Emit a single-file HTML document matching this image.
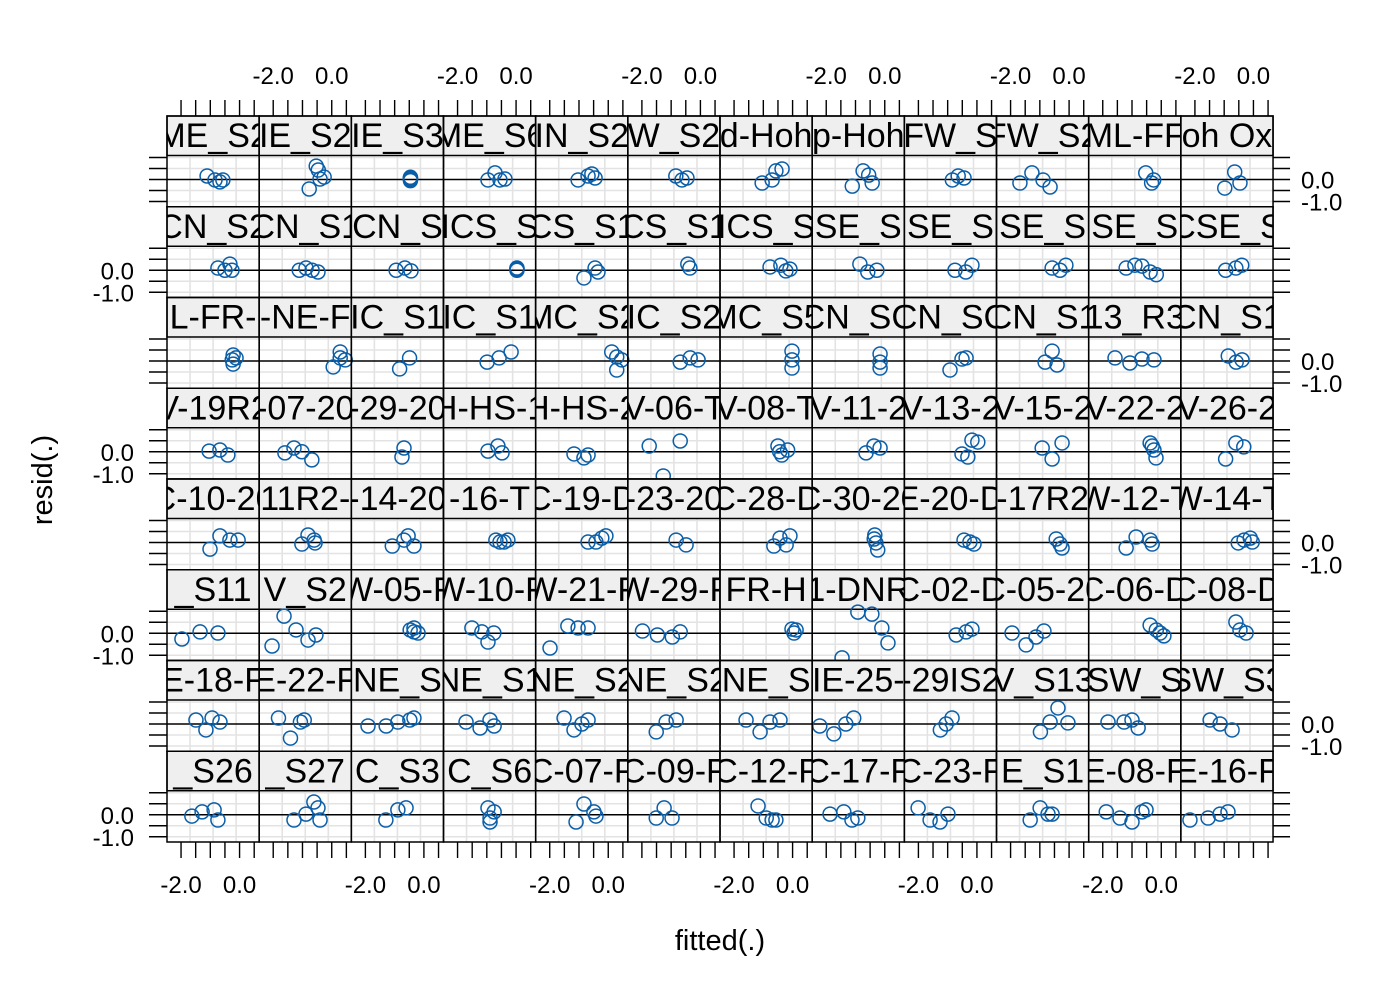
<!DOCTYPE html>
<html><head><meta charset="utf-8"><style>
html,body{margin:0;padding:0;background:#fff;}
svg{display:block;font-family:"Liberation Sans",Arial,sans-serif;}
</style></head><body>
<svg id="chart" width="1400" height="1000" viewBox="0 0 1400 1000" xmlns="http://www.w3.org/2000/svg">
<rect width="1400" height="1000" fill="#fff"/>
<text x="720" y="950" font-size="29" text-anchor="middle">fitted(.)</text>
<text x="0" y="0" font-size="29" text-anchor="middle" transform="translate(52,480) rotate(-90)">resid(.)</text>
<g id="panels"></g>
</svg>
<script>
const stripLabels = [
 ["ME_S2","IE_S2","IE_S3","ME_S6","IN_S2","W_S2","d-Hoh","p-Hoh","FW_S","FW_S2","ML-FF","oh Ox"],
 ["CN_S2","CN_S1","CN_S","ICS_S","CS_S1","CS_S1","ICS_S","SE_S","SE_S","SE_S","SE_S","CSE_S"],
 ["L-FR-","-NE-F","IC_S1","IC_S1","MC_S2","IC_S2","MC_S5","CN_SC","CN_SC","CN_S1","13_R3","CN_S1"],
 ["V-19R2","-07-20","-29-20","H-HS-1","H-HS-2","V-06-T","V-08-T","V-11-2","V-13-2","V-15-2","V-22-2","V-26-2"],
 ["C-10-20","11R2-","-14-20","-16-T","C-19-D","-23-20","C-28-D","C-30-20","E-20-D","-17R2","W-12-T","W-14-T"],
 ["_S11","V_S2","W-05-F","W-10-F","W-21-F","W-29-F","FR-H","1-DNR","C-02-D","C-05-20","C-06-D","C-08-D"],
 ["E-18-F","E-22-F","NE_S","NE_S1","NE_S2","NE_S2","NE_S","IE-25-","-29IS2","V_S13","SW_S","SW_S3"],
 ["_S26","_S27","C_S3","C_S6","C-07-F","C-09-F","C-12-F","C-17-F","C-23-F","E_S1","E-08-F","E-16-F"]
];
const xTickValues = [-2.0,-1.5,-1.0,-0.5,0.0,0.5];
const xTickLabels = [["-2.0",-2.0],["0.0",0.0]];
const yTickValues = [1.0,0.5,0.0,-0.5,-1.0];
const yTickLabels = [["0.0",0.0],["-1.0",-1.0]];
const fittedVals = [
 [[-1.11,-0.84,-0.67,-0.57],[-0.77,-0.53,-0.40,-0.26,-0.46],[-0.46,-0.46,-0.46,-0.46,-0.46],[-0.96,-0.72,-0.55,-0.38],[-1.03,-0.69,-0.45,-0.56],[-0.84,-0.63,-0.46],[-1.04,-0.70,-0.57,-0.36],[-1.11,-0.74,-0.43,-0.55],[-0.84,-0.64,-0.44],[-1.68,-1.27,-0.89,-0.65],[-0.53,-0.33,-0.26],[-0.98,-0.64,-0.46]],
 [[-0.74,-0.50,-0.33,-0.26],[-1.11,-0.88,-0.67,-0.47],[-0.95,-0.65,-0.44],[0.03,0.03,0.03,0.03],[-0.83,-0.45,-0.35],[-0.43,-0.36],[-0.77,-0.40,-0.23,-0.09],[-0.85,-0.58,-0.27],[-0.75,-0.38,-0.17],[-0.58,-0.31,-0.11],[-1.20,-0.90,-0.66,-0.38,-0.17],[-0.95,-0.60,-0.40]],
 [[-0.22,-0.12,-0.22,-0.25],[0.05,0.29,0.46,0.29],[-0.83,-0.49],[-0.99,-0.58,-0.17],[0.12,0.29,0.46,0.29],[-0.69,-0.35,-0.08],[-0.02,-0.02,-0.02],[-0.16,-0.16,-0.16],[-0.92,-0.51,-0.37],[-0.82,-0.58,-0.41],[-1.58,-1.07,-0.66,-0.25],[-0.86,-0.59,-0.39]],
 [[-1.04,-0.67,-0.40],[-1.60,-1.29,-1.02,-0.68],[-0.68,-0.75],[-0.96,-0.62,-0.48],[-1.17,-0.83,-0.69],[-1.75,-1.27,-0.69],[-0.50,-0.44,-0.37,-0.17],[-0.64,-0.37,-0.16],[-0.51,-0.17,0.03,-0.31],[-0.92,-0.58,-0.24],[-0.38,-0.25,-0.18,-0.31],[-0.95,-0.60,-0.33]],
 [[-1.01,-0.67,-0.33,-0.05],[-1.02,-0.81,-0.57,-0.60],[-1.08,-0.68,-0.54,-0.34],[-0.69,-0.55,-0.28,-0.41],[-0.69,-0.42,-0.22,-0.08],[-0.83,-0.49],[-0.64,-0.43,-0.22,-0.09],[-0.34,-0.30,-0.24,-0.36],[-0.44,-0.24,-0.10],[-0.44,-0.31,-0.24],[-1.20,-0.86,-0.38,-0.31],[-0.52,-0.32,-0.11,-0.04]],
 [[-1.97,-1.35,-0.74],[-2.04,-1.63,-1.22,-0.54,-0.81],[-0.47,-0.34,-0.20,-0.34],[-1.51,-1.17,-0.96,-0.76],[-1.99,-1.38,-1.03,-0.69],[-1.98,-1.47,-0.96,-0.69],[-0.02,0.05,0.12],[-1.46,-0.92,-0.44,-0.10,0.11],[-0.71,-0.37,-0.17],[-1.95,-1.47,-1.13,-0.86],[-0.38,-0.17,-0.04,0.09],[-0.60,-0.46,-0.25]],
 [[-1.49,-1.15,-0.94,-0.67],[-1.82,-1.41,-1.07,-0.94],[-1.91,-1.29,-0.89,-0.48,-0.34],[-1.71,-1.23,-0.89,-0.75],[-1.51,-1.17,-0.90,-0.69],[-1.51,-1.17,-0.83],[-1.59,-1.11,-0.77,-0.43],[-2.22,-1.74,-1.33,-1.06],[-1.25,-1.05,-0.85],[-0.98,-0.65,-0.38,-0.04],[-1.82,-1.27,-1.00,-0.79],[-1.48,-1.14,-0.73]],
 [[-1.63,-1.28,-0.87,-0.74],[-1.29,-0.88,-0.61,-0.40,-0.47],[-1.30,-0.89,-0.61],[-0.96,-0.89,-0.89,-0.75],[-1.10,-0.83,-0.49,-0.42],[-1.51,-1.24,-0.97],[-1.18,-0.90,-0.70,-0.57],[-1.87,-1.40,-1.12,-0.92],[-2.01,-1.60,-1.26,-0.99],[-1.33,-0.99,-0.72,-0.58],[-1.88,-1.41,-1.00,-0.66,-0.52],[-2.17,-1.55,-1.14,-0.87]]
];
const residVals = [
 [[0.16,-0.02,-0.11,-0.02],[-0.43,0.61,0.02,0.11,0.43],[0.05,0.10,0.00,-0.05,0.08],[-0.02,0.30,-0.02,0.02],[-0.02,0.16,0.07,0.25],[0.16,-0.02,0.07],[-0.16,-0.02,0.39,0.48],[-0.30,0.39,-0.16,0.20],[-0.02,0.16,0.07],[-0.16,0.30,-0.02,-0.34],[0.30,-0.16,-0.02],[-0.39,0.34,-0.16]],
 [[0.10,0.00,0.28,0.00],[0.00,0.10,0.00,-0.08],[0.00,0.10,-0.03],[0.10,0.05,0.00,0.08],[-0.35,0.10,-0.08],[0.28,0.10],[0.15,0.23,-0.03,0.05],[0.28,-0.08,0.00],[0.00,-0.08,0.23],[0.10,0.00,0.23],[0.10,0.23,0.19,-0.08,-0.20],[0.00,0.10,0.23]],
 [[0.27,0.14,-0.14,0.05],[-0.27,0.41,0.05,0.14],[-0.36,0.14],[-0.05,0.14,0.41],[0.41,0.18,0.05,-0.41],[-0.05,0.14,0.05],[0.45,0.05,-0.32],[0.32,-0.05,-0.32],[-0.41,0.09,0.14],[-0.05,0.45,-0.18],[0.14,-0.09,0.09,0.05],[0.23,-0.05,0.05]],
 [[0.03,0.08,-0.15],[-0.05,0.17,0.00,-0.37],[0.17,-0.24],[0.03,0.26,-0.05],[-0.10,-0.28,-0.15],[0.26,-1.10,0.49],[0.26,0.00,-0.15,0.08],[-0.05,0.26,0.17],[-0.10,0.53,0.44,-0.24],[0.17,-0.33,0.40],[0.40,0.08,-0.28,0.26],[-0.33,0.40,0.22]],
 [[-0.30,0.30,0.11,0.11],[-0.07,0.34,-0.02,0.11],[-0.16,0.11,0.30,-0.16],[0.11,0.02,0.11,0.02],[0.02,0.02,0.20,0.30],[0.11,-0.11],[-0.16,0.20,-0.11,0.30],[0.34,-0.02,-0.34,0.16],[0.11,0.02,-0.07],[0.16,-0.07,-0.25],[-0.25,0.25,0.11,-0.07],[-0.02,0.11,0.20,0.02]],
 [[-0.26,0.06,0.01],[-0.58,0.78,0.15,-0.08,-0.31],[0.15,0.06,0.01,0.24],[0.24,0.06,-0.40,0.01],[-0.67,0.33,0.24,0.24],[0.10,-0.08,-0.17,0.06],[0.19,0.01,0.15],[-1.12,0.96,0.87,0.24,-0.44],[-0.08,0.06,0.19],[0.01,-0.53,-0.17,0.10],[0.37,0.15,0.01,-0.12],[0.51,0.15,0.01]],
 [[0.18,-0.27,0.27,0.09],[0.27,-0.64,0.09,0.18],[-0.09,-0.09,0.09,0.18,0.27],[0.09,-0.18,0.18,-0.09],[0.27,-0.27,0.00,0.18],[-0.36,0.09,0.18],[0.18,-0.36,0.09,0.18],[-0.09,-0.45,0.00,0.27],[-0.27,0.00,0.27],[-0.36,0.09,0.73,0.05],[0.09,0.09,0.18,-0.18],[0.18,0.00,-0.27]],
 [[-0.06,0.13,0.22,-0.24],[-0.24,0.03,0.58,-0.24,0.31],[-0.24,0.22,0.31],[0.31,-0.15,-0.33,0.13],[-0.33,0.49,0.13,-0.06],[-0.15,0.31,-0.15],[0.40,-0.15,-0.24,-0.24],[0.03,0.13,-0.24,-0.15],[0.31,-0.24,-0.33,0.03],[-0.24,0.31,0.03,0.03],[0.13,-0.15,-0.33,0.13,0.22],[-0.24,-0.15,0.03,0.13]]
];

const NS = "http://www.w3.org/2000/svg";
const X0 = 167, PW = 92.17, Y0 = 116, PH = 90.75, SH = 39.5, NC = 12, NR = 8;
const XMIN = -2.48, XMAX = 0.67;
function xScale(c, v){ return X0 + c*PW + (v - XMIN)/(XMAX - XMIN)*PW; }
function yScale(r, v){ return Y0 + r*PH + 63.5 - v*22; }
const root = document.getElementById('panels');
function mk(tag, attrs, parent){
  const e = document.createElementNS(NS, tag);
  for (const k in attrs) e.setAttribute(k, attrs[k]);
  (parent||root).appendChild(e);
  return e;
}
const defs = mk('defs', {});
for (let r = 0; r < NR; r++) {
  for (let c = 0; c < NC; c++) {
    const left = X0 + c*PW, top = Y0 + r*PH;
    const g = mk('g', {});
    
    
    [0.25,0.5,0.75].forEach(f => {
      const gl = mk('line', {x1:left+f*PW, x2:left+f*PW, y1:top+SH, y2:top+PH, stroke:'#e3e3e3', 'stroke-width':1.6}, g);
      
      
    });
    [1.0,0.5,-0.5,-1.0].forEach(v => {
      const gl = mk('line', {x1:left, x2:left+PW, y1:yScale(r,v), y2:yScale(r,v), stroke:'#e3e3e3', 'stroke-width':1.6}, g);
      
      
    });
    const zl = mk('line', {x1:left, x2:left+PW, y1:yScale(r,0), y2:yScale(r,0), stroke:'#000', 'stroke-width':1.4}, g);
    
    
    const cp = mk('clipPath', {id:'cp'+r+'_'+c}, defs);
    mk('rect', {x:left, y:top, width:PW, height:SH}, cp);
    const st = mk('rect', {x:left, y:top, width:PW, height:SH, fill:'#efefef', stroke:'#000', 'stroke-width':1.5}, g);
    
    
    const tx = mk('text', {x:left+PW/2, y:top+31, 'font-size':34, 'text-anchor':'middle', 'clip-path':'url(#cp'+r+'_'+c+')'}, g);
    
    
    tx.textContent = stripLabels[r][c];
    const xs = fittedVals[r][c], ys = residVals[r][c];
    for (let i = 0; i < xs.length; i++) {
      const pt = mk('circle', {cx:xScale(c,xs[i]), cy:yScale(r,ys[i]), r:7, fill:'none', stroke:'#0a5ea8', 'stroke-width':1.5}, g);
      
      
    }
    const bd = mk('rect', {x:left, y:top, width:PW, height:PH, fill:'none', stroke:'#000', 'stroke-width':1.5}, g);
    
    
  }
}
const topY = Y0, botY = Y0 + NR*PH;
for (let c = 0; c < NC; c++) {
  xTickValues.forEach(v => {
    const x = xScale(c, v);
    const t1 = mk('line', {x1:x, x2:x, y1:topY-16, y2:topY, stroke:'#000', 'stroke-width':1.4});
    
    
    const t2 = mk('line', {x1:x, x2:x, y1:botY, y2:botY+16, stroke:'#000', 'stroke-width':1.4});
    
    
  });
  xTickLabels.forEach(([lab, v]) => {
    const tl = mk('text', {x:xScale(c,v), y: (c%2===1) ? 84 : 893, 'font-size':24, 'text-anchor':'middle'});
    
    
    tl.textContent = lab;
  });
}
const leftX = X0, rightX = X0 + NC*PW;
for (let r = 0; r < NR; r++) {
  yTickValues.forEach(v => {
    const y = yScale(r, v);
    const t1 = mk('line', {x1:leftX-18, x2:leftX, y1:y, y2:y, stroke:'#000', 'stroke-width':1.4});
    
    
    const t2 = mk('line', {x1:rightX, x2:rightX+17, y1:y, y2:y, stroke:'#000', 'stroke-width':1.4});
    
    
  });
  yTickLabels.forEach(([lab, v]) => {
    const right = (r%2===0);
    const tl = mk('text', {x: right ? rightX+28 : leftX-33, y:yScale(r,v)+9, 'font-size':24, 'text-anchor': right ? 'start' : 'end'});
    
    
    tl.textContent = lab;
  });
}
</script>
</body></html>
